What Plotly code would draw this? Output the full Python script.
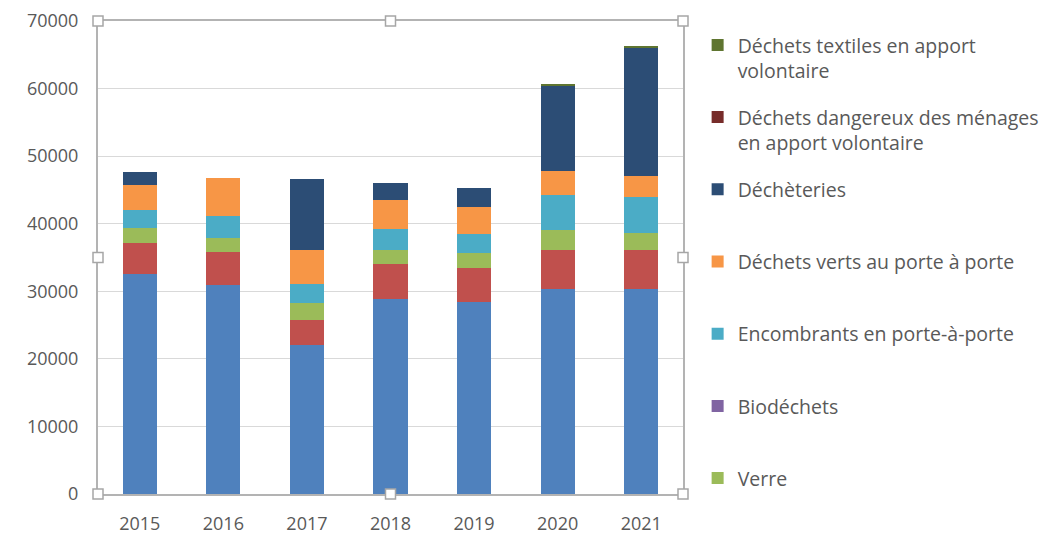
import plotly.graph_objects as go

years = ["2015", "2016", "2017", "2018", "2019", "2020", "2021"]

# tonnages, du bas vers le haut de la pile
omr = [32500, 31000, 22000, 28900, 28400, 30400, 30400]
collecte_selective = [4600, 4800, 3800, 5100, 5100, 5700, 5700]
verre = [2300, 2100, 2400, 2100, 2100, 2900, 2600]
biodechets = [0, 0, 0, 0, 0, 0, 0]
encombrants = [2600, 3200, 2850, 3100, 2900, 5300, 5300]
dechets_verts = [3700, 5700, 5100, 4300, 4000, 3500, 3100]
decheteries = [1900, 0, 10400, 2600, 2800, 12700, 19000]
dangereux = [0, 0, 0, 0, 0, 0, 0]
textiles = [0, 0, 0, 0, 0, 150, 200]

# (nom, valeurs, couleur, dans la légende, texte de légende)
series = [
    ("Ordures ménagères résiduelles", omr, "#4F81BD", False, ""),
    ("Collecte sélective", collecte_selective, "#C0504D", False, ""),
    ("Verre", verre, "#9BBB59", True, "Verre<br> "),
    ("Biodéchets", biodechets, "#8064A2", True, "Biodéchets<br> "),
    ("Encombrants en porte-à-porte", encombrants, "#4BACC6", True,
     "Encombrants en porte-à-porte<br> "),
    ("Déchets verts au porte à porte", dechets_verts, "#F79646", True,
     "Déchets verts au porte à porte<br> "),
    ("Déchèteries", decheteries, "#2C4D75", True, "Déchèteries<br> "),
    ("Déchets dangereux des ménages en apport volontaire", dangereux, "#772C2A", True,
     "Déchets dangereux des ménages<br>en apport volontaire"),
    ("Déchets textiles en apport volontaire", textiles, "#5F7530", True,
     "Déchets textiles en apport<br>volontaire"),
]

fig = go.Figure()

for i, (name, vals, color, show, label) in enumerate(series):
    fig.add_trace(
        go.Bar(
            x=years,
            y=vals,
            name=label if show else name,
            marker=dict(color=color, line=dict(width=0)),
            showlegend=show,
            legendgroup=name,
            legendrank=100 - i,
        )
    )

# poignées du cadre de sélection (façon Excel)
shapes = []
for hx in [0, 0.5, 1]:
    for hy in [0, 0.5, 1]:
        if hx == 0.5 and hy == 0.5:
            continue
        shapes.append(
            dict(
                type="rect",
                xref="paper", yref="paper",
                xsizemode="pixel", ysizemode="pixel",
                xanchor=hx, yanchor=hy,
                x0=-5, x1=5, y0=-5, y1=5,
                line=dict(color="#a6a6a6", width=1.5),
                fillcolor="white",
                layer="above",
            )
        )

fig.update_layout(
    width=1047,
    height=526,
    barmode="stack",
    bargap=0.59,
    paper_bgcolor="white",
    plot_bgcolor="white",
    margin=dict(l=90, r=372, t=13, b=40, autoexpand=False),
    font=dict(family="Open Sans", color="#595959", size=18),
    xaxis=dict(
        showline=True,
        mirror=True,
        linecolor="#b3b3b3",
        linewidth=2,
        ticks="",
        ticklabelstandoff=12,
        automargin=False,
    ),
    yaxis=dict(
        range=[0, 70000],
        dtick=10000,
        tickformat="d",
        showline=True,
        mirror=True,
        linecolor="#b3b3b3",
        linewidth=2,
        gridcolor="#d9d9d9",
        gridwidth=1,
        zeroline=False,
        ticklabelstandoff=14,
        automargin=False,
    ),
    legend=dict(
        x=1.025,
        y=0.99,
        xanchor="left",
        yanchor="top",
        traceorder="grouped",
        tracegroupgap=18.5,
        valign="top",
        itemwidth=30,
        maxheight=600,
        font=dict(size=19.5, color="#595959"),
    ),
    shapes=shapes,
)

fig.write_html("out.html")
